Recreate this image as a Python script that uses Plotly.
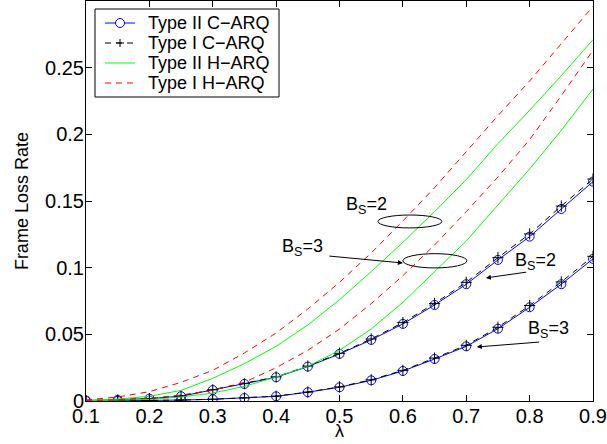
import plotly.graph_objects as go

lam = [0.1, 0.15, 0.2, 0.25, 0.3, 0.35, 0.4, 0.45, 0.5, 0.55, 0.6, 0.65, 0.7, 0.75, 0.8, 0.85, 0.9]

# Type II C-ARQ (blue, circles)
c2_bs2 = [0.0003, 0.0008, 0.0018, 0.0036, 0.0082, 0.0128, 0.0178, 0.0258, 0.0353, 0.0458, 0.0578, 0.0720, 0.0876, 0.1058, 0.1233, 0.1440, 0.1645]
c2_bs3 = [0.0, 0.0001, 0.0003, 0.0007, 0.0013, 0.0022, 0.0035, 0.0066, 0.0103, 0.0155, 0.0225, 0.0315, 0.0410, 0.0542, 0.0703, 0.0876, 0.1066]
# Type I C-ARQ (black dashed, plus)
c1_bs2 = [0.0003, 0.0008, 0.0018, 0.0037, 0.0084, 0.0130, 0.0181, 0.0262, 0.0358, 0.0465, 0.0588, 0.0732, 0.0890, 0.1075, 0.1253, 0.1462, 0.1665]
c1_bs3 = [0.0, 0.0001, 0.0003, 0.0007, 0.0013, 0.0023, 0.0036, 0.0067, 0.0106, 0.0159, 0.0230, 0.0322, 0.0418, 0.0553, 0.0716, 0.0893, 0.1085]
# Type II H-ARQ (green solid)
h2_bs2 = [0.0005, 0.0015, 0.0035, 0.0080, 0.0170, 0.0280, 0.0410, 0.0570, 0.0760, 0.0970, 0.1190, 0.1420, 0.1660, 0.1930, 0.2180, 0.2440, 0.2710]
h2_bs3 = [0.0002, 0.0005, 0.0012, 0.0030, 0.0060, 0.0110, 0.0180, 0.0260, 0.0380, 0.0540, 0.0740, 0.0970, 0.1200, 0.1470, 0.1740, 0.2030, 0.2340]
# Type I H-ARQ (red dashed)
h1_bs2 = [0.0008, 0.0030, 0.0070, 0.0140, 0.0230, 0.0360, 0.0510, 0.0690, 0.0890, 0.1110, 0.1350, 0.1600, 0.1870, 0.2140, 0.2400, 0.2680, 0.2960]
h1_bs3 = [0.0002, 0.0008, 0.0020, 0.0045, 0.0080, 0.0140, 0.0250, 0.0380, 0.0540, 0.0730, 0.0940, 0.1170, 0.1420, 0.1680, 0.1960, 0.2290, 0.2630]

legend_names = ["Type II C\u2212ARQ", "Type I C\u2212ARQ", "Type II H\u2212ARQ", "Type I H\u2212ARQ"]

x_ticks = [0.1, 0.2, 0.3, 0.4, 0.5, 0.6, 0.7, 0.8, 0.9]
x_ticktext = ["0.1", "0.2", "0.3", "0.4", "0.5", "0.6", "0.7", "0.8", "0.9"]
y_ticks = [0, 0.05, 0.1, 0.15, 0.2, 0.25]
y_ticktext = ["0", "0.05", "0.1", "0.15", "0.2", "0.25"]

FONT = "Liberation Sans, Arial, Helvetica, sans-serif"
BLUE, BLACK, GREEN, RED = "#0000ff", "#000000", "#00ff00", "#ff0000"
DASH = "6px,5px"

fig = go.Figure()

def add(y, name, color, dash, marker):
    kw = dict(x=lam, y=y, name=name, showlegend=False,
              line=dict(color=color, width=1, dash=dash))
    if marker == "circle":
        kw["mode"] = "lines+markers"
        kw["marker"] = dict(symbol="circle-open", size=9, color=color, line=dict(width=1, color=color))
    elif marker == "plus":
        kw["mode"] = "lines+markers"
        kw["marker"] = dict(symbol="cross-thin-open", size=8, color=color, line=dict(width=1, color=color))
    else:
        kw["mode"] = "lines"
    fig.add_trace(go.Scatter(**kw))

add(c2_bs2, legend_names[0], BLUE, "solid", "circle")
add(c2_bs3, legend_names[0], BLUE, "solid", "circle")
add(c1_bs2, legend_names[1], BLACK, DASH, "plus")
add(c1_bs3, legend_names[1], BLACK, DASH, "plus")
add(h2_bs2, legend_names[2], GREEN, "solid", None)
add(h2_bs3, legend_names[2], GREEN, "solid", None)
add(h1_bs2, legend_names[3], RED, DASH, None)
add(h1_bs3, legend_names[3], RED, DASH, None)

shapes = []
# ellipses
shapes.append(dict(type="circle", xref="x", yref="y", x0=0.5606, x1=0.6615, y0=0.1298, y1=0.1395,
                   line=dict(color="black", width=1)))
shapes.append(dict(type="circle", xref="x", yref="y", x0=0.600, x1=0.701, y0=0.0998, y1=0.1105,
                   line=dict(color="black", width=1)))

# legend box (drawn as shapes + text)
shapes.append(dict(type="rect", xref="paper", yref="paper", x0=0.01775, x1=0.3807, y0=0.76, y1=0.98,
                   line=dict(color="black", width=1), fillcolor="white", layer="above"))
leg_y = [0.945, 0.895, 0.845, 0.795]
leg_col = [BLUE, BLACK, GREEN, RED]
leg_dash = ["solid", DASH, "solid", DASH]
lx0, lx1, lxm, tx = 0.0375, 0.0966, 0.0671, 0.1183
for yy, col, dsh in zip(leg_y, leg_col, leg_dash):
    shapes.append(dict(type="line", xref="paper", yref="paper", x0=lx0, x1=lx1, y0=yy, y1=yy,
                       line=dict(color=col, width=1, dash=dsh), layer="above"))
# legend markers
shapes.append(dict(type="circle", xref="paper", yref="paper", xsizemode="pixel", ysizemode="pixel",
                   xanchor=lxm, yanchor=leg_y[0], x0=-4.5, x1=4.5, y0=-4.5, y1=4.5,
                   line=dict(color=BLUE, width=1), fillcolor="white", layer="above"))
shapes.append(dict(type="line", xref="paper", yref="paper", xsizemode="pixel", ysizemode="pixel",
                   xanchor=lxm, yanchor=leg_y[1], x0=-4, x1=4, y0=0, y1=0,
                   line=dict(color=BLACK, width=1), layer="above"))
shapes.append(dict(type="line", xref="paper", yref="paper", xsizemode="pixel", ysizemode="pixel",
                   xanchor=lxm, yanchor=leg_y[1], x0=0, x1=0, y0=-4, y1=4,
                   line=dict(color=BLACK, width=1), layer="above"))

ann_font = dict(family=FONT, size=18, color="black")
annotations = [
    dict(x=0.543, y=0.147, text="B<sub>S</sub>=2", showarrow=False),
    dict(x=0.442, y=0.1155, text="B<sub>S</sub>=3", showarrow=False),
    dict(x=0.8098, y=0.1043, text="B<sub>S</sub>=2", showarrow=False),
    dict(x=0.830, y=0.0533, text="B<sub>S</sub>=3", showarrow=False),
    # arrows
    dict(x=0.600, y=0.1035, ax=0.4817, ay=0.1088, axref="x", ayref="y", text="", showarrow=True,
         arrowhead=2, arrowsize=1, arrowwidth=1, arrowcolor="black"),
    dict(x=0.731, y=0.0923, ax=0.797, ay=0.0968, axref="x", ayref="y", text="", showarrow=True,
         arrowhead=2, arrowsize=1, arrowwidth=1, arrowcolor="black"),
    dict(x=0.7167, y=0.0405, ax=0.8177, ay=0.0443, axref="x", ayref="y", text="", showarrow=True,
         arrowhead=2, arrowsize=1, arrowwidth=1, arrowcolor="black"),
    # axis titles
    dict(xref="paper", yref="paper", x=0.5, y=-0.105, text="\u03bb", showarrow=False,
         xanchor="center", yanchor="bottom"),
    dict(xref="paper", yref="paper", x=-0.126, y=0.5, text="Frame Loss Rate", showarrow=False,
         textangle=-90, xanchor="center", yanchor="middle"),
]
for yy, name in zip(leg_y, legend_names):
    annotations.append(dict(xref="paper", yref="paper", x=tx, y=yy, text=name, showarrow=False,
                            xanchor="left", yanchor="middle"))
for a in annotations:
    a.setdefault("font", ann_font)
    a.setdefault("xref", "x")
    a.setdefault("yref", "y")

fig.update_layout(
    width=607, height=444,
    margin=dict(l=86, r=14, t=1, b=43, autoexpand=False),
    paper_bgcolor="white", plot_bgcolor="white",
    font=dict(family=FONT, size=18, color="black"),
    showlegend=False,
    annotations=annotations,
    shapes=shapes,
)
fig.update_xaxes(range=[0.1, 0.9], tickvals=x_ticks, ticktext=x_ticktext,
                 showline=True, linecolor="black", linewidth=1, mirror="ticks",
                 ticks="inside", ticklen=6, tickcolor="black", showgrid=False, zeroline=False,
                 ticklabelstandoff=-3,
                 tickfont=dict(family=FONT, size=20, color="black"))
fig.update_yaxes(range=[0, 0.3], tickvals=y_ticks, ticktext=y_ticktext,
                 showline=True, linecolor="black", linewidth=1, mirror="ticks",
                 ticks="inside", ticklen=6, tickcolor="black", showgrid=False, zeroline=False,
                 ticklabelstandoff=-3,
                 tickfont=dict(family=FONT, size=20, color="black"))

fig.write_html("out.html", config={"displayModeBar": False},
               post_script="document.body.style.margin='0';")
